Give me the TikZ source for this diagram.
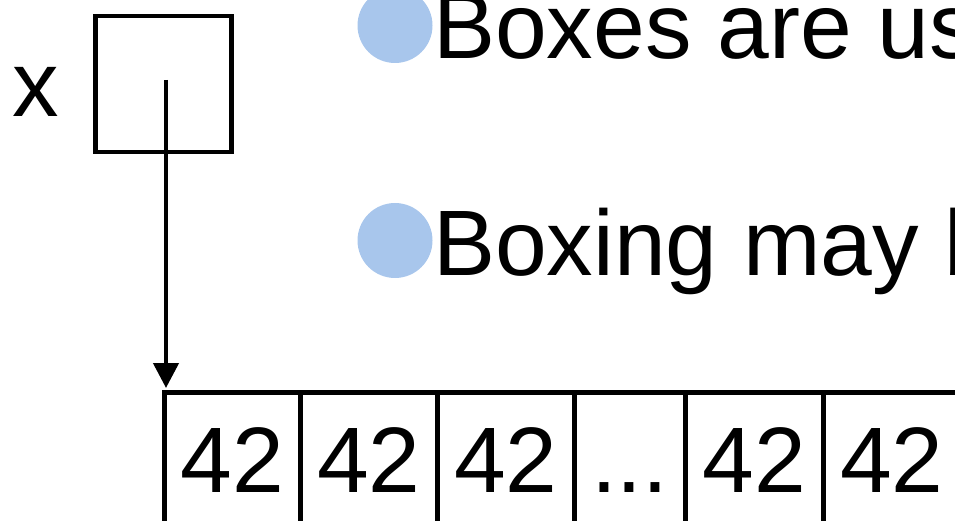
\documentclass[tikz,border=0pt]{standalone}
\usepackage{fontspec}
\setmainfont{Liberation Sans}
\usetikzlibrary{arrows.meta}
\definecolor{bulletblue}{RGB}{168,198,236}
\begin{document}
\begin{tikzpicture}[x=1pt,y=-1pt,
  bigtext/.style={inner sep=0pt,font=\fontsize{93}{110}\selectfont},
  frame/.style={draw=black,line width=4.5pt},
  cellbox/.style={draw=black,line width=4.5pt,inner sep=0pt,minimum height=200pt,anchor=north west},
  bulletdot/.style={circle,fill=bulletblue,inner sep=0pt,minimum size=75pt},
  ptr/.style={line width=4.5pt,-{Triangle[length=25pt,width=25pt]}}]
\useasboundingbox (0,0) rectangle (955,521);
\clip (0,0) rectangle (955,521);
% variable x
\node[bigtext,anchor=base west] (xlab) at (12,117) {x};
\node[frame,inner sep=0pt,minimum width=136pt,minimum height=136pt,anchor=north west] (xbox) at (93,14) {};
\coordinate (ptrstart) at (166,80);
% bullets
\node[bulletdot] (b1) at (395,25.5) {};
\node[bigtext,anchor=base west] (t1) at (433,59) {Boxes are us};
\node[bulletdot] (b2) at (395,240.5) {};
\node[bigtext,anchor=base west] (t2) at (433,275) {Boxing may b};
% array cells
\node[cellbox,minimum width=136pt] (c1) at (162,390) {};
\node[cellbox,minimum width=137pt] (c2) at (298,390) {};
\node[cellbox,minimum width=137pt] (c3) at (435,390) {};
\node[cellbox,minimum width=111pt] (c4) at (572,390) {};
\node[cellbox,minimum width=138pt] (c5) at (683,390) {};
\node[cellbox,minimum width=137pt] (c6) at (821,390) {};
\node[bigtext,anchor=base] (n1) at (c1.center |- 0,492) {42};
\node[bigtext,anchor=base] (n2) at (c2.center |- 0,492) {42};
\node[bigtext,anchor=base] (n3) at (c3.center |- 0,492) {42};
\node[bigtext,anchor=base] (n4) at (c4.center |- 0,492) {...};
\node[bigtext,anchor=base] (n5) at (c5.center |- 0,492) {42};
\node[bigtext,anchor=base] (n6) at (c6.center |- 0,492) {42};
\coordinate (ptrend) at (166,388);
\draw[ptr] (ptrstart) -- (ptrend);
\end{tikzpicture}
\end{document}
